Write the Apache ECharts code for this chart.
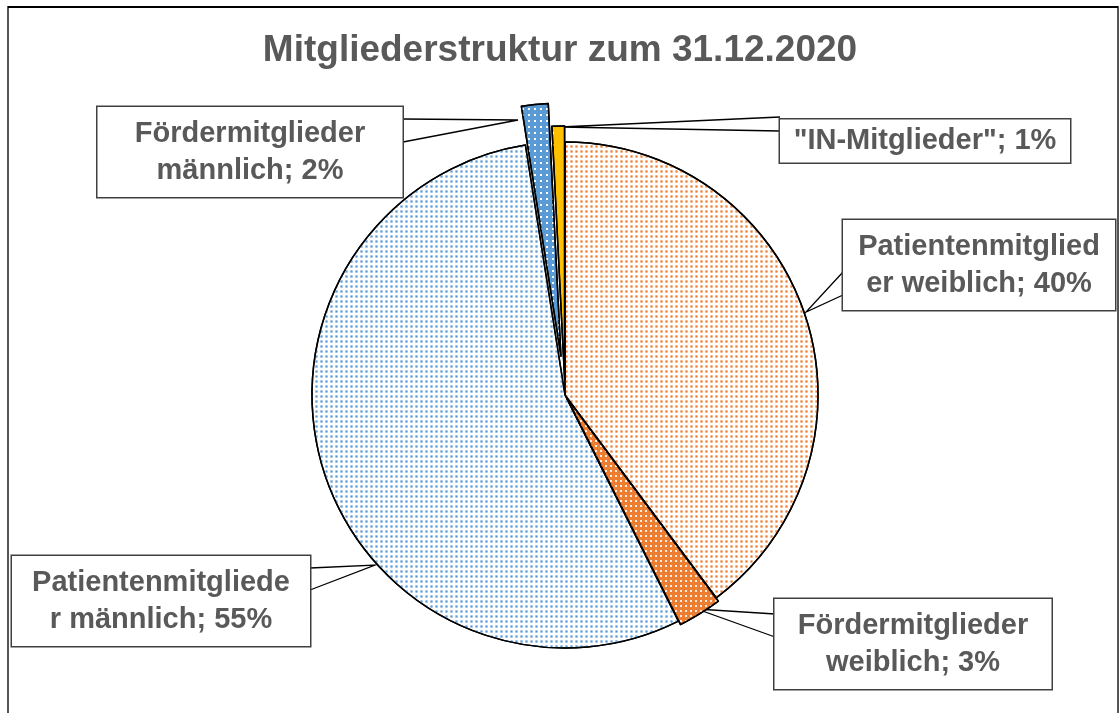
<!DOCTYPE html>
<html>
<head>
<meta charset="utf-8">
<script src="https://cdn.jsdelivr.net/npm/echarts@6/dist/echarts.min.js"></script>
<style>
  html, body { margin: 0; padding: 0; background: #fff; }
  #main { width: 1120px; height: 713px; }
</style>
</head>
<body>
<div id="main"></div>
<script>
// data
var names = ['Patientenmitglieder weiblich', 'Fördermitglieder weiblich', 'Patientenmitglieder männlich', 'Fördermitglieder männlich', '"IN-Mitglieder"'];
var values = [39.8, 2.8, 54.9, 1.7, 0.8];
var labelTexts = ['Patientenmitglied\ner weiblich', 'Fördermitglieder\nweiblich', 'Patientenmitgliede\nr männlich', 'Fördermitglieder\nmännlich', '"IN-Mitglieder"'];

// styling
var pieCenter = [565, 395];
var pieRadius = 253;
var explode = [0, 4, 0, 39, 16];
var labelPos = [[979, 265], [913, 644], [161, 601], [250, 152], [925, 141]];
var boxWidth = [272, 277, 298, 305, 290];
// callout wedges: [base1, tip, base2]
var wedges = [
  [[843, 272], [806, 312], [843, 295]],
  [[775, 614], [697, 609], [775, 637]],
  [[310, 568], [375, 565], [310, 590]],
  [[403, 119], [518, 120], [403, 142]],
  [[780, 117], [560, 127], [780, 131]]
];
var fills = [
  { color: '#fff', decal: { symbol: 'rect', color: '#ed7d31', dashArrayX: [3, 2], dashArrayY: [3, 2], symbolSize: 0.75 } },
  { color: '#ed7d31', decal: { symbol: 'rect', color: 'rgba(255,255,255,0.85)', dashArrayX: [2, 3], dashArrayY: [2, 3], symbolSize: 1 } },
  { color: '#fff', decal: { symbol: 'rect', color: '#5b9bd5', dashArrayX: [3, 2], dashArrayY: [3, 2], symbolSize: 0.75 } },
  { color: '#5b9bd5', decal: { symbol: 'rect', color: '#fff', dashArrayX: [2, 4], dashArrayY: [2, 4], symbolSize: 1 } },
  { color: '#ffc000', decal: { symbol: 'rect', color: '#fff', dashArrayX: [2, 10], dashArrayY: [2, 10], symbolSize: 1 } }
];

var total = values.reduce(function (a, b) { return a + b; }, 0);

var chart = echarts.init(document.getElementById('main'), null, { renderer: 'canvas' });

// which slices each series draws: the unexploded ones together, each exploded one on its own
var groups = [[0, 2], [1], [3], [4]];

function groupCenter(group) {
  var i = group[0];
  var o = explode[i];
  if (!o) return pieCenter;
  var before = 0;
  for (var k = 0; k < i; k++) before += values[k];
  var mid = (before + values[i] / 2) / total * 2 * Math.PI;
  return [pieCenter[0] + o * Math.sin(mid), pieCenter[1] - o * Math.cos(mid)];
}

function buildData(group) {
  return values.map(function (v, i) {
    if (group.indexOf(i) < 0) {
      return {
        name: names[i], value: v,
        itemStyle: { color: 'rgba(0,0,0,0)', borderWidth: 0 },
        label: { show: false }, labelLine: { show: false }
      };
    }
    return {
      name: names[i], value: v,
      itemStyle: { color: fills[i].color, decal: fills[i].decal, borderColor: '#000', borderWidth: 1.5 },
      label: { width: boxWidth[i], padding: i === 4 ? [3, 0] : [8, 0] }
    };
  });
}

var series = groups.map(function (g) {
  return {
    type: 'pie',
    center: groupCenter(g),
    radius: pieRadius,
    startAngle: 90,
    clockwise: true,
    avoidLabelOverlap: false,
    silent: true,
    animation: false,
    data: buildData(g),
    label: {
      show: true,
      position: 'outside',
      formatter: function (p) {
        return labelTexts[p.dataIndex] + '; ' + Math.round(p.value / total * 100) + '%';
      },
      fontFamily: 'Liberation Sans, Arial, sans-serif',
      fontSize: 29,
      fontWeight: 'bold',
      color: '#595959',
      lineHeight: 37,
      align: 'center',
      backgroundColor: '#fff',
      borderColor: '#404040',
      borderWidth: 1.5
    },
    labelLine: {
      show: true,
      showAbove: false,
      length: 20,
      length2: 20,
      lineStyle: { color: '#000', width: 1.3 }
    },
    labelLayout: function (params) {
      var p = labelPos[params.dataIndex];
      return {
        x: p[0], y: p[1], align: 'center', verticalAlign: 'middle',
        labelLinePoints: wedges[params.dataIndex]
      };
    }
  };
});

var option = {
  backgroundColor: '#fff',
  title: {
    text: 'Mitgliederstruktur zum 31.12.2020',
    left: 'center',
    top: 27,
    textStyle: {
      fontFamily: 'Liberation Sans, Arial, sans-serif',
      fontSize: 37,
      fontWeight: 'bold',
      color: '#595959'
    }
  },
  graphic: [{
    type: 'rect',
    shape: { x: 8, y: 7, width: 1110, height: 720 },
    style: { fill: 'none', stroke: '#555', lineWidth: 2 },
    z: -1
  }, {
    type: 'line',
    shape: { x1: 8, y1: 7, x2: 1118, y2: 7 },
    style: { stroke: '#000', lineWidth: 2 },
    z: -1
  }],
  series: series
};

chart.setOption(option);
</script>
</body>
</html>
